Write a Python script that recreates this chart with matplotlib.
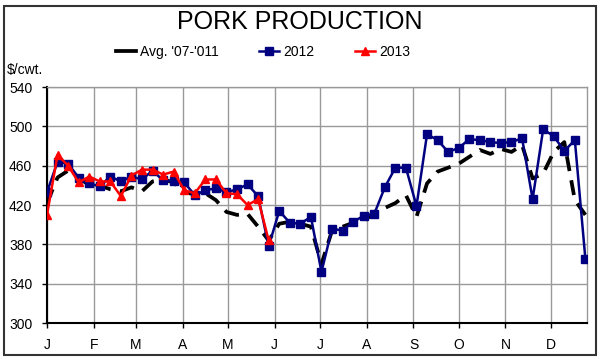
import numpy as np
import matplotlib
matplotlib.use('Agg')
import matplotlib.pyplot as plt
from matplotlib.lines import Line2D
from matplotlib.patches import Rectangle

plt.rcParams['font.family'] = ['Liberation Sans', 'DejaVu Sans']

# weekly prices, $/cwt (week 0 = first week of January)
avg_07_11 = [422, 448, 455, 448, 440, 440, 436, 434, 438, 434,
             444, 446, 443, 433, 431, 432, 425, 413, 410, 411,
             398, 384, 401, 403, 401, 398, 360, 394, 398, 402,
             403, 413, 417, 422, 430, 408, 442, 454, 458, 462,
             469, 476, 472, 477, 474, 481, 447, 452, 474, 484,
             425, 410]
y2012 = [433, 464, 462, 448, 442, 439, 449, 444, 449, 446,
         455, 445, 444, 443, 430, 435, 437, 433, 436, 441,
         429, 378, 414, 402, 401, 408, 352, 396, 394, 403,
         409, 411, 438, 458, 458, 419, 492, 486, 474, 478,
         487, 486, 484, 483, 484, 488, 426, 497, 490, 475,
         486, 365]
y2013 = [410, 471, 460, 443, 449, 444, 444, 429, 450, 456,
         456, 451, 454, 435, 432, 446, 446, 432, 431, 420,
         426, 384]

month_labels = ['J', 'F', 'M', 'A', 'M', 'J', 'J', 'A', 'S', 'O', 'N', 'D']
month_start_day = [0, 31, 59, 90, 120, 151, 181, 212, 243, 273, 304, 334]

weeks_avg = np.arange(len(avg_07_11))
weeks_2012 = np.arange(len(y2012))
weeks_2013 = np.arange(len(y2013))
month_pos = np.array(month_start_day) / 7.0

fig = plt.figure(figsize=(6, 3.61), dpi=100)
ax = fig.add_axes([0.0783, 0.105, 0.9, 0.654])

ax.plot(weeks_avg, avg_07_11, color='black', lw=2.7, dashes=(4.0, 2.5), zorder=3)
ax.plot(weeks_2012, y2012, color='#000080', lw=1.8, marker='s', ms=5.5, zorder=4)
ax.plot(weeks_2013, y2013, color='#ff0000', lw=1.8, marker='^', ms=6, zorder=5)

ax.set_xlim(0, 51.15)
ax.set_ylim(300, 540)
ax.set_yticks(range(300, 541, 40))
ax.set_xticks(month_pos)
ax.set_xticklabels(month_labels)
ax.grid(True, color='#999999', lw=1)
ax.set_axisbelow(True)

for side in ['top', 'right']:
    ax.spines[side].set_color('#999999')
    ax.spines[side].set_linewidth(1)
for side in ['left', 'bottom']:
    ax.spines[side].set_color('black')
    ax.spines[side].set_linewidth(1.5)
ax.tick_params(axis='both', direction='out', length=3.6, width=1, labelsize=10, pad=7)

fig.text(0.5, 0.94, 'PORK PRODUCTION', ha='center', va='center', fontsize=18)
fig.text(0.012, 0.806, '$/cwt.', ha='left', va='center', fontsize=10)

handles = [
    Line2D([], [], color='black', lw=2.7),
    Line2D([], [], color='#000080', lw=1.8, marker='s', ms=5.5),
    Line2D([], [], color='#ff0000', lw=1.8, marker='^', ms=6),
]
fig.legend(handles, ["Avg. '07-'011", '2012', '2013'], loc='center',
           bbox_to_anchor=(0.438, 0.856), ncol=3, frameon=False, fontsize=10,
           handlelength=1.45, handletextpad=0.3, columnspacing=2.9)

fig.patches.append(Rectangle((4 / 600, 6 / 361), 592 / 600, 349 / 361,
                             transform=fig.transFigure, fill=False,
                             edgecolor='#333333', lw=1.5))

fig.savefig('out.png', dpi=100)
